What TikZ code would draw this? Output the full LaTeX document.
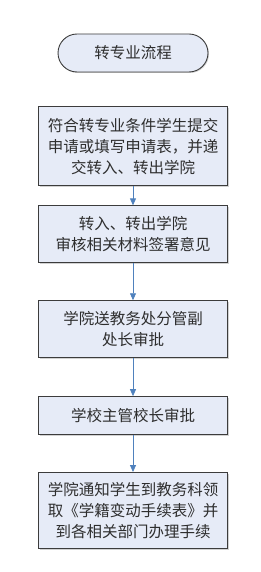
\documentclass[tikz,border=0pt]{standalone}
\usepackage{fontspec}
\newfontfamily\cjk{Noto Sans CJK SC}
\definecolor{flowFill}{HTML}{E6EBF7}
\definecolor{flowLine}{HTML}{3C3C3C}
\definecolor{flowArrow}{HTML}{4F81BD}
\definecolor{flowText}{HTML}{2E2E2E}
\usepackage{tikz}
\usetikzlibrary{arrows.meta, positioning, shadows}

\begin{document}
\begin{tikzpicture}[x=1pt, y=1pt,
  stepbox/.style={draw=flowLine, line width=0.9pt, fill=flowFill,
    minimum width=189pt, text width=180pt, align=center,
    inner sep=0pt, text=flowText,
    font=\cjk\fontsize{15.5}{21}\selectfont,
    drop shadow={shadow xshift=1pt, shadow yshift=-1pt, fill=black!35}},
  startbox/.style={stepbox, rounded corners=19pt, minimum width=150pt,
    minimum height=38pt, text width=140pt},
  flow/.style={draw=flowArrow, line width=0.8pt,
    -{Triangle[length=7pt, width=6pt]}}]
  \useasboundingbox (0,0) rectangle (261,-572);
  \node[startbox] (start) at (133,-53) {转专业流程};
  \node[stepbox, minimum height=79pt, below=34pt of start] (apply) {
    符合转专业条件学生提交\\申请或填写申请表，并递\\交转入、转出学院};
  \node[stepbox, minimum height=57pt, below=19pt of apply] (college) {
    转入、转出学院\\审核相关材料签署意见};
  \node[stepbox, minimum height=57pt, below=37pt of college] (office) {
    学院送教务处分管副\\处长审批};
  \node[stepbox, minimum height=38pt, below=38pt of office] (head) {
    学校主管校长审批};
  \node[stepbox, minimum height=76pt, below=37pt of head] (notify) {
    学院通知学生到教务科领\\取《学籍变动手续表》并\\到各相关部门办理手续};
  \draw[flow] (apply) -- (college);
  \draw[flow] (college) -- (office);
  \draw[flow] (office) -- (head);
  \draw[flow] (head) -- (notify);
\end{tikzpicture}
\end{document}
